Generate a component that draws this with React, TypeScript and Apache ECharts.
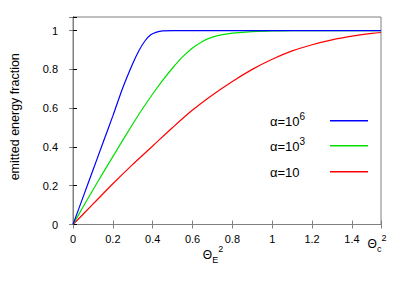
import React, { useEffect, useRef } from 'react';
import * as echarts from 'echarts';

const xBlue = [0, 0.05, 0.1, 0.15, 0.2, 0.25, 0.3, 0.33, 0.36, 0.39, 0.42, 0.45, 0.5, 0.6, 0.8, 1.0, 1.2, 1.4, 1.546];
const yBlue = [0, 0.14, 0.28, 0.42, 0.56, 0.705, 0.83, 0.895, 0.945, 0.978, 0.992, 0.998, 1, 1, 1, 1, 1, 1, 1];

const xGreen = [0, 0.05, 0.1, 0.15, 0.2, 0.25, 0.3, 0.35, 0.4, 0.45, 0.5, 0.55, 0.6, 0.65, 0.7, 0.75, 0.8, 0.9, 1.0, 1.1, 1.3, 1.546];
const yGreen = [0, 0.09, 0.178, 0.265, 0.35, 0.435, 0.518, 0.598, 0.673, 0.743, 0.807, 0.864, 0.91, 0.944, 0.966, 0.979, 0.987, 0.995, 0.998, 1, 1, 1];

const xRed = [0, 0.1, 0.2, 0.3, 0.4, 0.5, 0.6, 0.7, 0.8, 0.9, 1.0, 1.1, 1.2, 1.3, 1.4, 1.5, 1.546];
const yRed = [0, 0.105, 0.21, 0.31, 0.405, 0.5, 0.59, 0.668, 0.738, 0.8, 0.852, 0.895, 0.927, 0.952, 0.971, 0.986, 0.99];

const seriesNames = ['a6', 'a3', 'a10'];
const legendTexts = ['{t|α=10}{sup|6}', '{t|α=10}{sup|3}', '{t|α=10}'];
const seriesColors = ['#0000ff', '#00e000', '#ff0000'];

const X_MAX = 1.546;
const Y_MAX = 1.07;
const FONT = 'Liberation Sans, Arial, Helvetica, sans-serif';

const zip = (xs: number[], ys: number[]) => xs.map((x, i) => [x, ys[i]]);

const richBase = {
  t: { fontSize: 12, fontFamily: FONT, color: '#000', lineHeight: 20 },
  sub: { fontSize: 9, fontFamily: FONT, color: '#000', verticalAlign: 'bottom', lineHeight: 20 },
  sup: { fontSize: 9, fontFamily: FONT, color: '#000', verticalAlign: 'top', lineHeight: 20 },
};

const richLegend = {
  t: { fontSize: 13, fontFamily: FONT, color: '#000', lineHeight: 20 },
  sup: { fontSize: 10, fontFamily: FONT, color: '#000', verticalAlign: 'top', lineHeight: 20 },
};

export default function App() {
  const ref = useRef<HTMLDivElement>(null);
  useEffect(() => {
    if (!ref.current) return;
    const chart = echarts.init(ref.current, null, { renderer: 'svg' });
    const legendYs = [121, 146, 172];
    const option: any = {
      animation: false,
      backgroundColor: '#fff',
      textStyle: { fontFamily: FONT },
      grid: { left: 70, right: 26, top: 17, bottom: 60.5, show: true, borderColor: '#808080', borderWidth: 1, containLabel: false },
      legend: seriesNames.map((n, i) => ({
        data: [n],
        left: 330,
        top: legendYs[i] - 1,
        padding: 0,
        align: 'left',
        icon: 'rect',
        itemWidth: 38,
        itemHeight: 1.5,
        itemGap: 0,
        selectedMode: false,
        formatter: () => '',
        textStyle: { fontSize: 1 },
      })),
      graphic: legendTexts.map((txt, i) => ({
        type: 'text',
        x: 270,
        y: legendYs[i],
        style: { text: txt, rich: richLegend, align: 'left', verticalAlign: 'middle' },
      })),
      xAxis: [
        {
          type: 'value',
          min: 0,
          max: X_MAX,
          interval: 0.2,
          position: 'bottom',
          splitLine: { show: false },
          axisLine: { lineStyle: { color: '#808080', width: 1 } },
          axisTick: { inside: true, length: 4, lineStyle: { color: '#808080' } },
          axisLabel: {
            margin: 9,
            fontSize: 11,
            color: '#000',
            fontFamily: FONT,
            showMaxLabel: true,
            formatter: (v: number) => (v > 1.5 ? '{t|Θ}{sub|c}{sup|2}' : String(Math.round(v * 10) / 10)),
            rich: {
              t: { fontSize: 12, fontFamily: FONT, color: '#000', lineHeight: 20 },
              sub: { fontSize: 9, fontFamily: FONT, color: '#000', verticalAlign: 'bottom', lineHeight: 20 },
              sup: { fontSize: 9, fontFamily: FONT, color: '#000', verticalAlign: 'top', lineHeight: 20, padding: [0, 8, 0, 0] },
            },
          },
          name: '{t|Θ}{sub|E}{sup|2}',
          nameLocation: 'middle',
          nameGap: 20,
          nameMoveOverlap: false,
          nameTextStyle: { rich: richBase, padding: [0, 28, 0, 0] },
        },
        {
          type: 'value',
          min: 0,
          max: X_MAX,
          interval: 0.2,
          position: 'top',
          splitLine: { show: false },
          axisLine: { lineStyle: { color: '#808080', width: 1 } },
          axisTick: { inside: true, length: 4, lineStyle: { color: '#808080' } },
          axisLabel: { show: false },
        },
      ],
      yAxis: [
        {
          type: 'value',
          min: 0,
          max: Y_MAX,
          interval: 0.2,
          position: 'left',
          splitLine: { show: false },
          axisLine: { show: true, lineStyle: { color: '#000', width: 1 } },
          axisTick: { show: true, inside: true, length: 4, lineStyle: { color: '#000' } },
          axisLabel: {
            margin: 15,
            fontSize: 11,
            color: '#000',
            fontFamily: FONT,
            formatter: (v: number) => (v > 1.01 ? '' : String(Math.round(v * 10) / 10)),
          },
          name: 'emitted energy fraction',
          nameLocation: 'middle',
          nameGap: 52,
          nameMoveOverlap: false,
          nameTextStyle: { fontSize: 12.5, color: '#000', fontFamily: FONT, padding: [0, 0, 0, 8] },
        },
        {
          type: 'value',
          min: 0,
          max: Y_MAX,
          interval: 0.2,
          position: 'right',
          splitLine: { show: false },
          axisLine: { show: true, lineStyle: { color: '#808080', width: 1 } },
          axisTick: { show: true, inside: true, length: 4, lineStyle: { color: '#808080' } },
          axisLabel: { show: false },
        },
      ],
      series: [
        { name: seriesNames[0], data: zip(xBlue, yBlue) },
        { name: seriesNames[1], data: zip(xGreen, yGreen) },
        { name: seriesNames[2], data: zip(xRed, yRed) },
      ].map((s, i) => ({
        ...s,
        type: 'line',
        xAxisIndex: 0,
        yAxisIndex: 0,
        showSymbol: false,
        symbol: 'none',
        smooth: 0.3,
        color: seriesColors[i],
        itemStyle: { color: seriesColors[i] },
        lineStyle: { color: seriesColors[i], width: 1.2 },
        z: 3 - i,
      })),
    };
    chart.setOption(option);
    return () => chart.dispose();
  }, []);
  return <div ref={ref} style={{ position: 'fixed', left: 0, top: 0, width: 407, height: 285 }} />;
}
